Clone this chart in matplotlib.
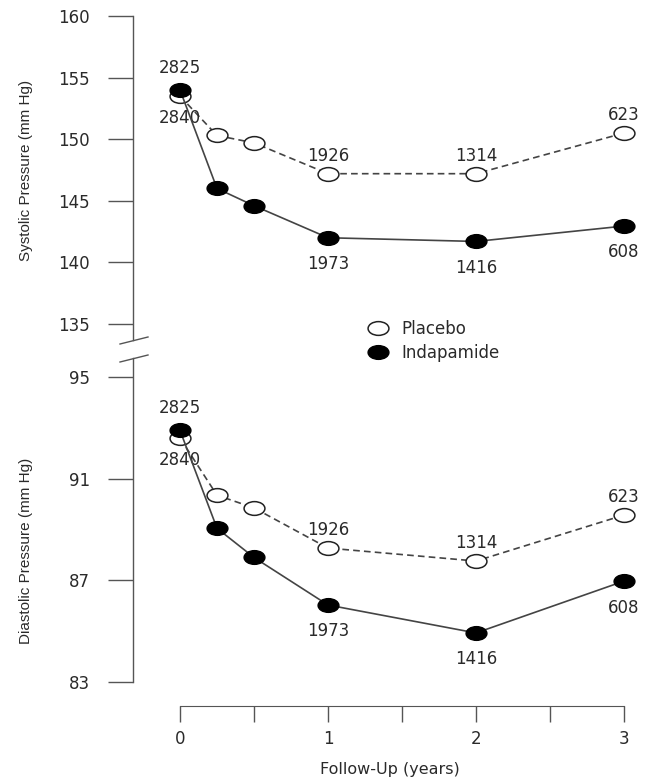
import matplotlib
matplotlib.use('Agg')
import matplotlib.pyplot as plt
from matplotlib.path import Path
from matplotlib.lines import Line2D
import numpy as np

# ---------------- data ----------------
years = [0, 0.25, 0.5, 1, 2, 3]
sys_placebo = [153.5, 150.3, 149.7, 147.2, 147.2, 150.5]
sys_indap = [154.0, 146.0, 144.6, 142.0, 141.7, 142.95]
dia_placebo = [92.6, 90.35, 89.85, 88.27, 87.76, 89.57]
dia_indap = [92.9, 89.05, 87.9, 86.03, 84.93, 86.97]
n_placebo = ["2840", "", "", "1926", "1314", "623"]
n_indap = ["2825", "", "", "1973", "1416", "608"]
sys_ticks = [135, 140, 145, 150, 155, 160]
dia_ticks = [83, 87, 91, 95]
x_ticks = [0, 1, 2, 3]
x_minor = [0.5, 1.5, 2.5]

W, H = 651, 778
plt.rcParams['font.family'] = ['DejaVu Sans']
fig = plt.figure(figsize=(W / 100, H / 100), dpi=100)


def fx(px):
    return px / W


def fy(py):
    return 1 - py / H


# axes geometry (pixels)
L, R = 133, 646
ax1 = fig.add_axes([fx(L), fy(340), (R - L) / W, (340 - 16) / H])
ax2 = fig.add_axes([fx(L), fy(682), (R - L) / W, (682 - 358) / H])

xmin = (L - 180) / 148.0
xmax = (R - 180) / 148.0

# elliptical marker (the reference is stretched horizontally)
uc = Path.unit_circle()
ell = Path(uc.vertices * np.array([1.0, 0.66]), uc.codes)

axis_col = '#555555'
line_col = '#444444'
txt_col = '#2a2a2a'

for ax in (ax1, ax2):
    ax.set_xlim(xmin, xmax)
    for s in ('top', 'right', 'bottom'):
        ax.spines[s].set_visible(False)
    ax.spines['left'].set_color(axis_col)
    ax.spines['left'].set_linewidth(1.0)
    ax.tick_params(axis='y', length=18, width=1.0, color=axis_col,
                   pad=13, labelsize=12, labelcolor=txt_col)
    ax.tick_params(axis='x', bottom=False, labelbottom=False)

ax1.set_ylim(133.70, 160)
ax1.set_yticks(sys_ticks)
ax2.set_ylim(83, 95.75)
ax2.set_yticks(dia_ticks)

# bottom x axis on ax2, offset downward
ax2.spines['bottom'].set_visible(True)
ax2.spines['bottom'].set_position(('outward', 17))
ax2.spines['bottom'].set_bounds(0, 3)
ax2.spines['bottom'].set_color(axis_col)
ax2.set_xticks(x_ticks)
ax2.set_xticks(x_minor, minor=True)
ax2.tick_params(axis='x', which='both', bottom=True, labelbottom=True,
                length=11.5, width=1.0, color=axis_col, pad=6,
                labelsize=12, labelcolor=txt_col)
ax2.tick_params(axis='x', which='minor', labelbottom=False)
ax2.set_xlabel('Follow-Up (years)', fontsize=11.5, color=txt_col, labelpad=10)


def draw(ax, yp, yi):
    ax.plot(years, yp, color=line_col, lw=1.2, ls=(0, (4, 2.5)),
            marker=ell, ms=15, mfc='white', mec='#222222', mew=1.1, zorder=3,
            clip_on=False)
    ax.plot(years, yi, color=line_col, lw=1.2, ls='-',
            marker=ell, ms=15, mfc='black', mec='black', mew=1.0, zorder=4,
            clip_on=False)
    for i, (x, t) in enumerate(zip(years, n_placebo)):
        if not t:
            continue
        dy = -16 if i == 0 else 13
        ax.annotate(t, (x, yp[i]), xytext=(0, dy), textcoords='offset points',
                    ha='center', va='center', fontsize=12, color=txt_col)
    for i, (x, t) in enumerate(zip(years, n_indap)):
        if not t:
            continue
        dy = 16 if i == 0 else -19
        ax.annotate(t, (x, yi[i]), xytext=(0, dy), textcoords='offset points',
                    ha='center', va='center', fontsize=12, color=txt_col)


draw(ax1, sys_placebo, sys_indap)
draw(ax2, dia_placebo, dia_indap)

# y labels
fig.text(fx(26), fy(170), 'Systolic Pressure (mm Hg)', rotation=90,
         ha='center', va='center', fontsize=11, color=txt_col,
         family='Liberation Sans')
fig.text(fx(26), fy(551), 'Diastolic Pressure (mm Hg)', rotation=90,
         ha='center', va='center', fontsize=11, color=txt_col,
         family='Liberation Sans')

# axis break marks
for (x0, y0, x1, y1) in [(120, 344, 148, 337), (120, 362, 148, 355)]:
    fig.add_artist(Line2D([fx(x0), fx(x1)], [fy(y0), fy(y1)],
                          transform=fig.transFigure, color=axis_col, lw=1.0))

# legend
handles = [
    Line2D([], [], ls='none', marker=ell, ms=15, mfc='white', mec='#222222', mew=1.1),
    Line2D([], [], ls='none', marker=ell, ms=15, mfc='black', mec='black', mew=1.0),
]
fig.legend(handles, ['Placebo', 'Indapamide'], loc='upper left',
           bbox_to_anchor=(fx(370), fy(320)), frameon=False, fontsize=12,
           handlelength=1.0, handletextpad=0.9, labelspacing=0.35,
           borderpad=0, borderaxespad=0, labelcolor=txt_col)

fig.savefig('out.png', dpi=100)
